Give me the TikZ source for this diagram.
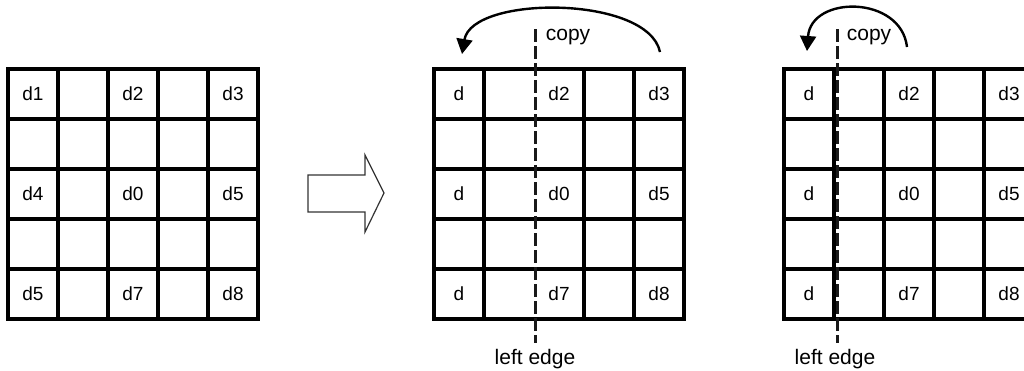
\documentclass[tikz,border=0pt]{standalone}
\usepackage{fontspec}
\setmainfont{Liberation Sans}
\usetikzlibrary{arrows.meta}
\tikzset{
  gridline/.style={line width=3.2pt, line cap=rect},
  cell/.style={inner sep=0pt, font=\fontsize{19}{22}\selectfont},
  edgeline/.style={line width=3pt, dash pattern=on 13pt off 4pt, draw=black!90},
  copyarc/.style={line width=2.4pt, -{Triangle[width=16pt,length=15pt]}},
  lbl/.style={inner sep=0pt, font=\fontsize{21}{24}\selectfont},
  bigarrow/.style={line width=1.2pt, draw=black!80, fill=white}
}
\begin{document}
\begin{tikzpicture}[x=1pt,y=-1pt]
\useasboundingbox (0,0) rectangle (1024,370);
\clip (0,0) rectangle (1024,370);
\fill[white] (0,0) rectangle (1024,370);

% ---------- left grid ----------
\foreach \i in {0,...,5} {
  \draw[gridline] (8+50*\i,69) -- (8+50*\i,319);
  \draw[gridline] (8,69+50*\i) -- (258,69+50*\i);
}
\node[cell] (a1) at (33,94) {d1};
\node[cell] (a2) at (133,94) {d2};
\node[cell] (a3) at (233,94) {d3};
\node[cell] (a4) at (33,194) {d4};
\node[cell] (a0) at (133,194) {d0};
\node[cell] (a5) at (233,194) {d5};
\node[cell] (a6) at (33,294) {d5};
\node[cell] (a7) at (133,294) {d7};
\node[cell] (a8) at (233,294) {d8};

% ---------- hollow arrow ----------
\draw[bigarrow] (308,175) -- (365,175) -- (365,155) -- (384,193) -- (365,232) -- (365,212) -- (308,212) -- cycle;

% ---------- middle grid ----------
\foreach \i in {0,1,3,4,5} {
  \draw[gridline] (434+50*\i,69) -- (434+50*\i,319);
}
\foreach \i in {0,...,5} {
  \draw[gridline] (434,69+50*\i) -- (684,69+50*\i);
}
\node[cell] (b1) at (459,94) {d};
\node[cell] (b2) at (559,94) {d2};
\node[cell] (b3) at (659,94) {d3};
\node[cell] (b4) at (459,194) {d};
\node[cell] (b0) at (559,194) {d0};
\node[cell] (b5) at (659,194) {d5};
\node[cell] (b6) at (459,294) {d};
\node[cell] (b7) at (559,294) {d7};
\node[cell] (b8) at (659,294) {d8};

\coordinate (mtop) at (535,29);
\coordinate (mbot) at (535,343);
\draw[edgeline] (mtop) -- (mbot);
\node[lbl] (mcopy) at (568,37) {copy};
\node[lbl] (medge) at (535,359) {left edge};
\coordinate (marcs) at (660,52);
\coordinate (marce) at (462,54);
\draw[copyarc] (marcs) .. controls (648,-5) and (472,-5) .. (marce);

% ---------- right grid ----------
\foreach \i in {0,...,5} {
  \draw[gridline] (784+50*\i,69) -- (784+50*\i,319);
  \draw[gridline] (784,69+50*\i) -- (1034,69+50*\i);
}
\node[cell] (c1) at (809,94) {d};
\node[cell] (c2) at (909,94) {d2};
\node[cell] (c3) at (1009,94) {d3};
\node[cell] (c4) at (809,194) {d};
\node[cell] (c0) at (909,194) {d0};
\node[cell] (c5) at (1009,194) {d5};
\node[cell] (c6) at (809,294) {d};
\node[cell] (c7) at (909,294) {d7};
\node[cell] (c8) at (1009,294) {d8};

\coordinate (rtop) at (837,29);
\coordinate (rbot) at (837,343);
\draw[edgeline] (rtop) -- (rbot);
\node[lbl] (rcopy) at (869,37) {copy};
\node[lbl] (redge) at (835,359) {left edge};
\coordinate (rarcs) at (907,47);
\coordinate (rarce) at (807,51);
\draw[copyarc] (rarcs) .. controls (901,-5) and (811,-5) .. (rarce);
\end{tikzpicture}
\end{document}
